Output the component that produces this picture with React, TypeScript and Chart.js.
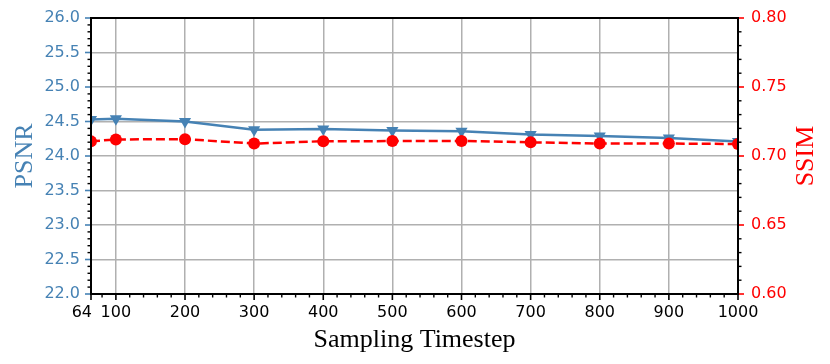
import { useEffect, useRef } from "react";
import { Chart, registerables } from "chart.js";

Chart.register(...registerables);

const timesteps = [64, 100, 200, 300, 400, 500, 600, 700, 800, 900, 1000];
const psnrValues = [24.53, 24.54, 24.5, 24.38, 24.39, 24.37, 24.36, 24.31, 24.29, 24.26, 24.21];
const ssimValues = [0.7106, 0.712, 0.7122, 0.709, 0.7107, 0.7108, 0.7109, 0.7099, 0.709, 0.709, 0.7087];
const xTickValues = [64, 100, 200, 300, 400, 500, 600, 700, 800, 900, 1000];
const psnrTickValues = [22.0, 22.5, 23.0, 23.5, 24.0, 24.5, 25.0, 25.5, 26.0];
const ssimTickValues = [0.6, 0.65, 0.7, 0.75, 0.8];

const BLUE = "#4682B4";
const RED = "#FF0000";
const GRID = "#b0b0b0";
const TICK_SIZE = 16;
const TICK_FAMILY = "'DejaVu Sans', sans-serif";
const TICK_FONT = { family: TICK_FAMILY, size: TICK_SIZE };
const TITLE_FONT = "26px 'Liberation Serif', 'Times New Roman', serif";
const X_LABEL_PAD = 9;

const zeroPad = (s: any) => {
  s.paddingTop = 0;
  s.paddingBottom = 0;
  s.paddingLeft = 0;
  s.paddingRight = 0;
};

const decorPlugin = {
  id: "decor",
  afterDatasetsDraw(chart: any) {
    const { ctx, chartArea, scales } = chart;
    const { left, right, top, bottom } = chartArea;
    const xs = scales.x;
    const ys = scales.y;
    const ys1 = scales.y1;
    ctx.save();
    const line = (x1: number, y1: number, x2: number, y2: number, color: string, w: number) => {
      ctx.beginPath();
      ctx.strokeStyle = color;
      ctx.lineWidth = w;
      ctx.moveTo(x1, y1);
      ctx.lineTo(x2, y2);
      ctx.stroke();
    };
    for (let v = 80; v < 1000; v += 20) {
      if (v % 100 === 0) continue;
      const px = xs.getPixelForValue(v);
      line(px, bottom, px, bottom + 3.5, "#000", 1.4);
    }
    xTickValues.forEach((v) => {
      const px = xs.getPixelForValue(v);
      line(px, bottom, px, bottom + 6, "#000", 1.6);
    });
    for (let i = 0; i <= 40; i++) {
      if (i % 5 === 0) continue;
      const py = ys.getPixelForValue(22 + i * 0.1);
      line(left - 3.5, py, left, py, "#000", 1.4);
    }
    psnrTickValues.forEach((v) => {
      const py = ys.getPixelForValue(v);
      line(left - 6, py, left, py, BLUE, 1.6);
    });
    for (let i = 0; i <= 20; i++) {
      if (i % 5 === 0) continue;
      const py = ys1.getPixelForValue(0.6 + i * 0.01);
      line(right, py, right + 3.5, py, "#000", 1.4);
    }
    ssimTickValues.forEach((v) => {
      const py = ys1.getPixelForValue(v);
      line(right, py, right + 6, py, RED, 1.6);
    });
    ctx.strokeStyle = "#000";
    ctx.lineWidth = 2;
    ctx.strokeRect(left, top, right - left, bottom - top);
    ctx.font = `${TICK_SIZE}px ${TICK_FAMILY}`;
    ctx.fillStyle = "#000";
    ctx.textAlign = "right";
    ctx.textBaseline = "middle";
    ctx.fillText(String(xTickValues[0]), xs.getPixelForValue(xTickValues[0]) + 1, bottom + X_LABEL_PAD + (TICK_SIZE * 1.2) / 2);
    ctx.font = TITLE_FONT;
    ctx.textAlign = "center";
    ctx.textBaseline = "alphabetic";
    ctx.fillStyle = BLUE;
    ctx.save();
    ctx.translate(31.5, (top + bottom) / 2);
    ctx.rotate(-Math.PI / 2);
    ctx.fillText("PSNR", 0, 0);
    ctx.restore();
    ctx.fillStyle = RED;
    ctx.save();
    ctx.translate(812.5, (top + bottom) / 2);
    ctx.rotate(-Math.PI / 2);
    ctx.fillText("SSIM", 0, 0);
    ctx.restore();
    ctx.fillStyle = "#000";
    ctx.fillText("Sampling Timestep", (left + right) / 2, 346.5);
    ctx.restore();
  },
};

export default function App() {
  const ref = useRef<HTMLCanvasElement | null>(null);
  useEffect(() => {
    if (!ref.current) return;
    const chart = new Chart(ref.current, {
      type: "line",
      data: {
        datasets: [
          {
            label: "SSIM",
            data: timesteps.map((t, i) => ({ x: t, y: ssimValues[i] })),
            yAxisID: "y1",
            borderColor: RED,
            backgroundColor: RED,
            borderWidth: 2.5,
            borderDash: [9, 4],
            pointStyle: "circle",
            pointRadius: 6,
            pointBorderWidth: 0,
            pointBackgroundColor: RED,
            tension: 0,
            clip: 0,
          },
          {
            label: "PSNR",
            data: timesteps.map((t, i) => ({ x: t, y: psnrValues[i] })),
            yAxisID: "y",
            borderColor: BLUE,
            backgroundColor: BLUE,
            borderWidth: 2.5,
            pointStyle: "triangle",
            pointRotation: 180,
            pointRadius: 7,
            pointBorderWidth: 0,
            pointBackgroundColor: BLUE,
            tension: 0,
            clip: 0,
          },
        ],
      },
      options: {
        animation: false,
        responsive: false,
        events: [],
        layout: { padding: { top: 18, left: 0, right: 0, bottom: 0 } },
        plugins: { legend: { display: false }, tooltip: { enabled: false } },
        scales: {
          x: {
            type: "linear",
            min: 64,
            max: 1000,
            afterBuildTicks: (s: any) => {
              s.ticks = xTickValues.map((v) => ({ value: v }));
            },
            afterFit: (s: any) => {
              s.height = 70;
              zeroPad(s);
            },
            ticks: {
              autoSkip: false,
              maxRotation: 0,
              font: TICK_FONT,
              color: "#000",
              padding: X_LABEL_PAD,
              callback: (v: any) => (v === xTickValues[0] ? "" : String(v)),
            },
            grid: {
              drawTicks: false,
              lineWidth: 1.5,
              color: (c: any) =>
                c.tick && (c.tick.value === 64 || c.tick.value === 1000) ? "rgba(0,0,0,0)" : GRID,
            },
            border: { display: false },
          },
          y: {
            type: "linear",
            position: "left",
            min: 22,
            max: 26,
            afterBuildTicks: (s: any) => {
              s.ticks = psnrTickValues.map((v) => ({ value: v }));
            },
            afterFit: (s: any) => {
              s.width = 91;
              zeroPad(s);
            },
            ticks: {
              font: TICK_FONT,
              color: BLUE,
              padding: 11,
              callback: (v: any) => Number(v).toFixed(1),
            },
            grid: {
              drawTicks: false,
              lineWidth: 1.5,
              color: (c: any) =>
                c.tick && (c.tick.value === 22 || c.tick.value === 26) ? "rgba(0,0,0,0)" : GRID,
            },
            border: { display: false },
          },
          y1: {
            type: "linear",
            position: "right",
            min: 0.6,
            max: 0.8,
            afterBuildTicks: (s: any) => {
              s.ticks = ssimTickValues.map((v) => ({ value: v }));
            },
            afterFit: (s: any) => {
              s.width = 92;
              zeroPad(s);
            },
            ticks: {
              font: TICK_FONT,
              color: RED,
              padding: 13,
              callback: (v: any) => Number(v).toFixed(2),
            },
            grid: { display: false, drawTicks: false },
            border: { display: false },
          },
        },
      },
      plugins: [decorPlugin],
    } as any);
    return () => chart.destroy();
  }, []);
  return (
    <div style={{ position: "absolute", left: 0, top: 0, width: 830, height: 364, background: "#fff" }}>
      <canvas ref={ref} width={830} height={364} style={{ display: "block" }} />
    </div>
  );
}
